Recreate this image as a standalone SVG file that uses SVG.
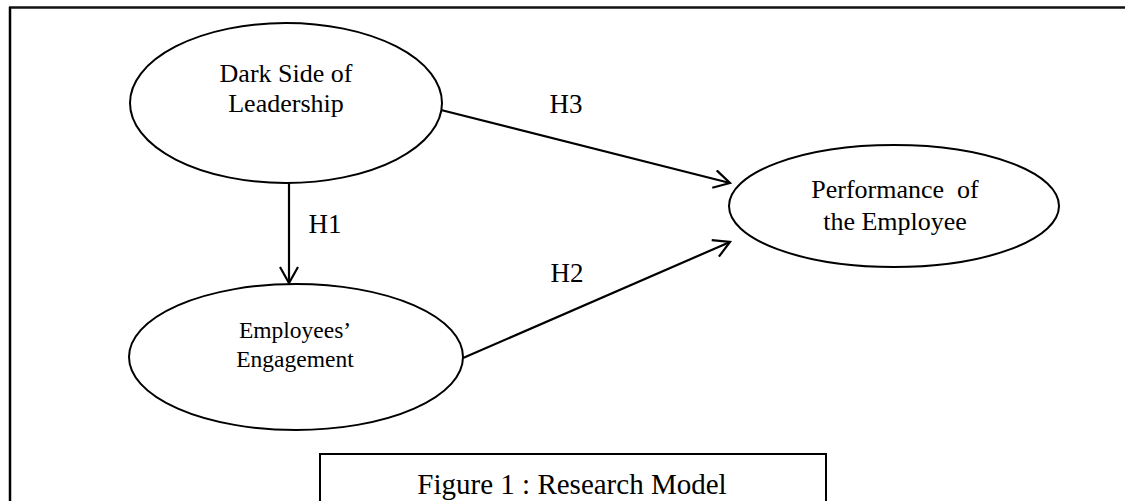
<svg xmlns="http://www.w3.org/2000/svg" width="1125" height="501" viewBox="0 0 1125 501">
<style>
.n{fill:#fff;stroke:#000;stroke-width:2}
.t{font-family:"Liberation Serif","Times New Roman",serif;fill:#000;text-anchor:middle}
.c{stroke:#000;stroke-width:2.2;fill:none}
</style>
<defs>
<marker id="ah" viewBox="0 0 20 20" refX="18" refY="10" markerWidth="20" markerHeight="20" markerUnits="userSpaceOnUse" orient="auto">
<path d="M2,1 L18,10 L2,19" fill="none" stroke="#000" stroke-width="2.2"/>
</marker>
</defs>
<rect width="1125" height="501" fill="#fff"/>
<g id="frame">
<line x1="9" y1="7.5" x2="1125" y2="7.5" stroke="#111" stroke-width="2.5"/>
<line x1="10" y1="7" x2="10" y2="501" stroke="#000" stroke-width="2.5"/>
</g>
<g id="connectors">
<line class="c" x1="289" y1="183" x2="289" y2="283" marker-end="url(#ah)"/>
<line class="c" x1="441" y1="110" x2="730" y2="183" marker-end="url(#ah)"/>
<line class="c" x1="463" y1="358" x2="730" y2="242" marker-end="url(#ah)"/>
<text class="t" x="325" y="233" font-size="27">H1</text>
<text class="t" x="566" y="113" font-size="27">H3</text>
<text class="t" x="567" y="282" font-size="27">H2</text>
</g>
<g id="dark">
<ellipse class="n" cx="286" cy="103" rx="156" ry="80"/>
<text class="t" x="286" y="82" font-size="26">Dark Side of</text>
<text class="t" x="286" y="112" font-size="26">Leadership</text>
</g>
<g id="engagement">
<ellipse class="n" cx="296" cy="357" rx="167" ry="73"/>
<text class="t" x="295" y="338" font-size="23.5">Employees’</text>
<text class="t" x="295" y="367" font-size="23.5">Engagement</text>
</g>
<g id="performance">
<ellipse class="n" cx="894" cy="206" rx="165" ry="61"/>
<text class="t" x="895" y="198" font-size="26" xml:space="preserve">Performance  of</text>
<text class="t" x="895" y="230" font-size="26">the Employee</text>
</g>
<g id="caption">
<rect x="320" y="454" width="506" height="60" fill="#fff" stroke="#000" stroke-width="2"/>
<text class="t" x="572" y="494" font-size="29">Figure 1 : Research Model</text>
</g>
</svg>
